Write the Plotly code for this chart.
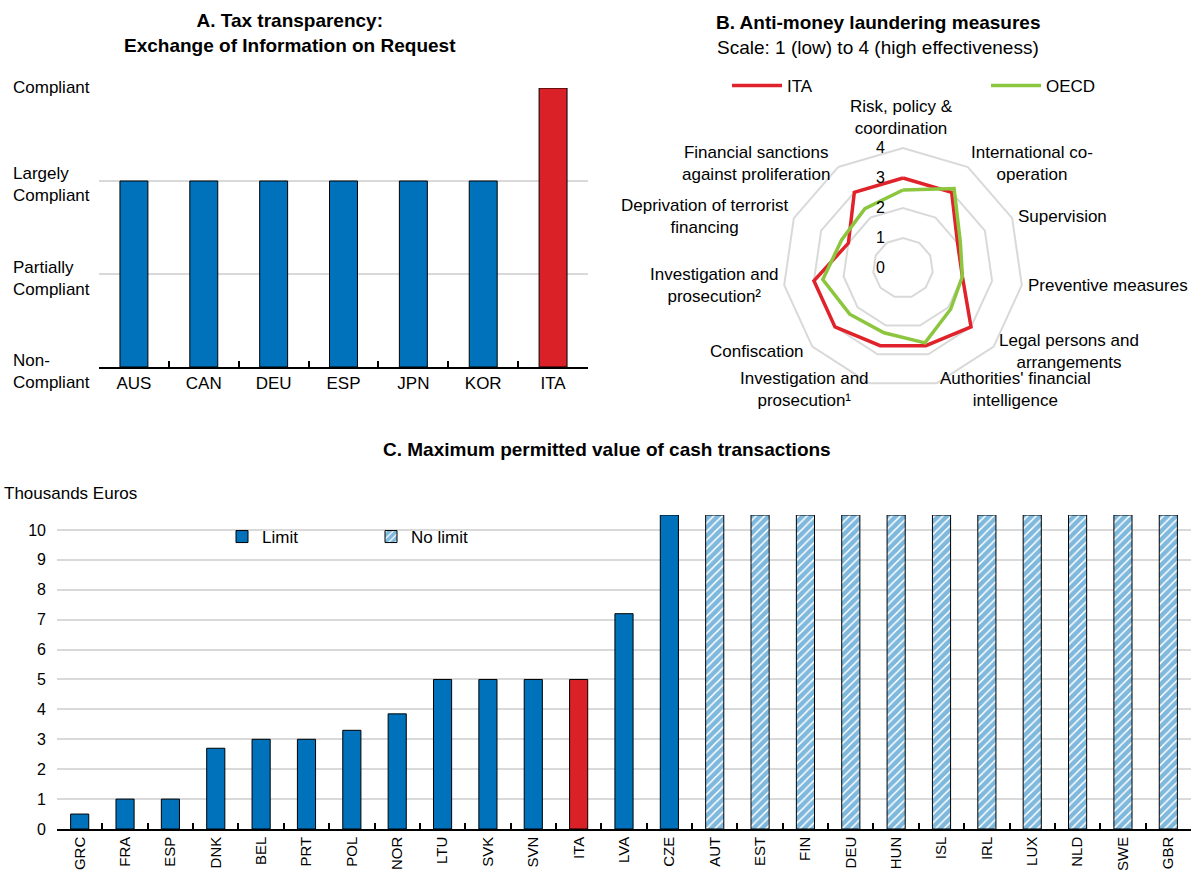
import plotly.graph_objects as go

W, H = 1192, 873


def px(x):
    return x / W


def py(y):
    return 1 - y / H


FONT = "Liberation Sans, Arial, sans-serif"
BLUE = "#0072BC"
RED = "#DA2128"
RED_LINE = "#E0232B"
GREEN = "#8CC63F"
GRID = "#D9D9D9"

# ---------------- Panel A data ----------------
eoir_countries = ["AUS", "CAN", "DEU", "ESP", "JPN", "KOR", "ITA"]
eoir_rating = [2, 2, 2, 2, 2, 2, 3]
eoir_colors = [BLUE, BLUE, BLUE, BLUE, BLUE, BLUE, RED]
eoir_levels = ["Non-<br>Compliant", "Partially<br>Compliant", "Largely<br>Compliant", "Compliant"]

# ---------------- Panel B data ----------------
aml_categories = [
    "Risk, policy &<br>coordination",
    "International co-<br>operation",
    "Supervision",
    "Preventive measures",
    "Legal persons and<br>arrangements",
    "Authorities' financial<br>intelligence",
    "Investigation and<br>prosecution¹",
    "Confiscation",
    "Investigation and<br>prosecution²",
    "Deprivation of terrorist<br>financing",
    "Financial sanctions<br>against proliferation",
]
aml_ita = [3.0, 3.0, 2.0, 2.0, 3.0, 2.7, 2.7, 3.0, 3.0, 2.0, 3.0]
aml_oecd = [2.6, 3.15, 2.1, 2.0, 2.1, 2.6, 2.25, 2.35, 2.7, 2.25, 2.35]
aml_scale = [0, 1, 2, 3, 4]
# label positions (pixel centres) for the category labels
aml_label_pos = [
    (901, 118), (1032, 163), (1062, 216), (1108, 286), (1069, 351), (1015, 389),
    (804, 389), (757, 351), (714, 286), (705, 216), (756, 163),
]

# ---------------- Panel C data ----------------
cash_limit_countries = ["GRC", "FRA", "ESP", "DNK", "BEL", "PRT", "POL", "NOR",
                        "LTU", "SVK", "SVN", "ITA", "LVA", "CZE"]
cash_limit_values = [0.5, 1.0, 1.0, 2.7, 3.0, 3.0, 3.3, 3.85, 5.0, 5.0, 5.0, 5.0, 7.2, 10.5]
cash_limit_colors = [BLUE] * 11 + [RED] + [BLUE] * 2
cash_nolimit_countries = ["AUT", "EST", "FIN", "DEU", "HUN", "ISL", "IRL", "LUX", "NLD", "SWE", "GBR"]
cash_nolimit_values = [10.5, 10.5, 10.5, 10.5, 10.5, 10.5, 10.5, 10.5, 10.5, 10.5, 10.5]

fig = go.Figure()

# Panel A bars
fig.add_trace(go.Bar(
    x=eoir_countries, y=eoir_rating, marker=dict(color=eoir_colors, line=dict(color="black", width=1)),
    xaxis="x", yaxis="y", showlegend=False, hoverinfo="x+y",
))

# Panel B radar
for name, vals, col in [("ITA", aml_ita, RED_LINE), ("OECD", aml_oecd, GREEN)]:
    fig.add_trace(go.Scatterpolar(
        r=vals + vals[:1], theta=aml_categories + aml_categories[:1], mode="lines",
        line=dict(color=col, width=3.5), name=name, subplot="polar", legend="legend",
    ))

# Panel C bars
fig.add_trace(go.Bar(
    x=cash_limit_countries, y=cash_limit_values, name="Limit",
    marker=dict(color=cash_limit_colors, line=dict(color="black", width=1)),
    xaxis="x2", yaxis="y2", legend="legend2",
))
fig.add_trace(go.Bar(
    x=cash_nolimit_countries, y=cash_nolimit_values, name="No limit",
    marker=dict(color=BLUE, line=dict(color="black", width=1),
                pattern=dict(shape="/", fgcolor=BLUE, bgcolor="white", size=6, solidity=0.75)),
    xaxis="x2", yaxis="y2", legend="legend2",
))

annotations = []
# Titles
annotations.append(dict(text="<b>A. Tax transparency:<br>Exchange of Information on Request</b>",
                        x=px(290), y=py(33), xref="paper", yref="paper", showarrow=False,
                        font=dict(size=19), xanchor="center", yanchor="middle"))
annotations.append(dict(text="<b>B. Anti-money laundering measures</b>",
                        x=px(878), y=py(22), xref="paper", yref="paper", showarrow=False,
                        font=dict(size=19), xanchor="center", yanchor="middle"))
annotations.append(dict(text="Scale: 1 (low) to 4 (high effectiveness)",
                        x=px(878), y=py(47), xref="paper", yref="paper", showarrow=False,
                        font=dict(size=19), xanchor="center", yanchor="middle"))
annotations.append(dict(text="<b>C. Maximum permitted value of cash transactions</b>",
                        x=px(607), y=py(450), xref="paper", yref="paper", showarrow=False,
                        font=dict(size=19), xanchor="center", yanchor="middle"))
annotations.append(dict(text="Thousands Euros", x=px(2), y=py(493), xref="paper", yref="paper",
                        showarrow=False, font=dict(size=17), xanchor="left", yanchor="middle"))

# Panel A y labels
for i, lab in enumerate(eoir_levels):
    annotations.append(dict(text=lab, x=px(11), y=i, xref="paper", yref="y", showarrow=False,
                            align="left", xanchor="left", yanchor="middle", font=dict(size=17),
                            yshift=-4 if "<br>" in lab else 0))

# Panel B category labels
for lab, (lx, ly) in zip(aml_categories, aml_label_pos):
    annotations.append(dict(text=lab, x=px(lx), y=py(ly), xref="paper", yref="paper", showarrow=False,
                            align="center", xanchor="center", yanchor="middle", font=dict(size=17)))

fig.update_layout(
    width=W, height=H, margin=dict(l=0, r=0, t=0, b=0, autoexpand=False),
    paper_bgcolor="white", plot_bgcolor="white",
    font=dict(family=FONT, size=17, color="black"),
    barmode="overlay", bargap=0.6,
    xaxis=dict(domain=[px(99), px(588)], anchor="y", type="category",
               showline=True, linecolor="black", linewidth=1.5,
               ticks="inside", tickson="boundaries", ticklen=6, tickcolor="black", tickwidth=1.5,
               showgrid=False, tickfont=dict(size=17), fixedrange=True),
    yaxis=dict(domain=[py(367), py(88)], anchor="x", range=[0, 3], tickvals=[0, 1, 2, 3],
               showticklabels=False, showgrid=True, gridcolor=GRID, gridwidth=1.5,
               zeroline=False, showline=False, fixedrange=True),
    xaxis2=dict(domain=[px(57), px(1191)], anchor="y2", type="category",
                showline=True, linecolor="black", linewidth=1.5,
                ticks="inside", tickson="boundaries", ticklen=6, tickcolor="black", tickwidth=1.5,
                showgrid=False, tickangle=-90, tickfont=dict(size=15), fixedrange=True),
    yaxis2=dict(domain=[py(829), py(515)], anchor="x2", range=[0, 10.5], dtick=1, tick0=0,
                showgrid=True, gridcolor=GRID, gridwidth=1.5, zeroline=False, showline=False,
                ticks="", tickfont=dict(size=16), ticklabelstandoff=10, fixedrange=True),
    polar=dict(
        domain=dict(x=[px(783), px(1023)], y=[py(388), py(148)]),
        gridshape="linear", bgcolor="white",
        angularaxis=dict(type="category", categoryarray=aml_categories, rotation=90,
                         direction="clockwise", showgrid=False, showticklabels=False, ticks="",
                         showline=True, linecolor=GRID, linewidth=2),
        radialaxis=dict(range=[0, 4], tickvals=aml_scale, angle=90, side="counterclockwise",
                        showline=False, ticks="outside", ticklen=12, tickcolor="rgba(0,0,0,0)",
                        gridcolor=GRID, gridwidth=2, tickfont=dict(size=16), tickangle=90),
    ),
    legend=dict(orientation="h", x=px(727), y=py(86), xanchor="left", yanchor="middle",
                font=dict(size=17), itemwidth=50, entrywidth=194, bgcolor="rgba(0,0,0,0)"),
    legend2=dict(orientation="h", x=px(222), y=py(537), xanchor="left", yanchor="middle",
                 font=dict(size=17), itemwidth=30, entrywidth=104, bgcolor="rgba(0,0,0,0)"),
    annotations=annotations,
)

fig.write_html("out.html", config={"displayModeBar": False},
               post_script="document.body.style.margin='0px';")
